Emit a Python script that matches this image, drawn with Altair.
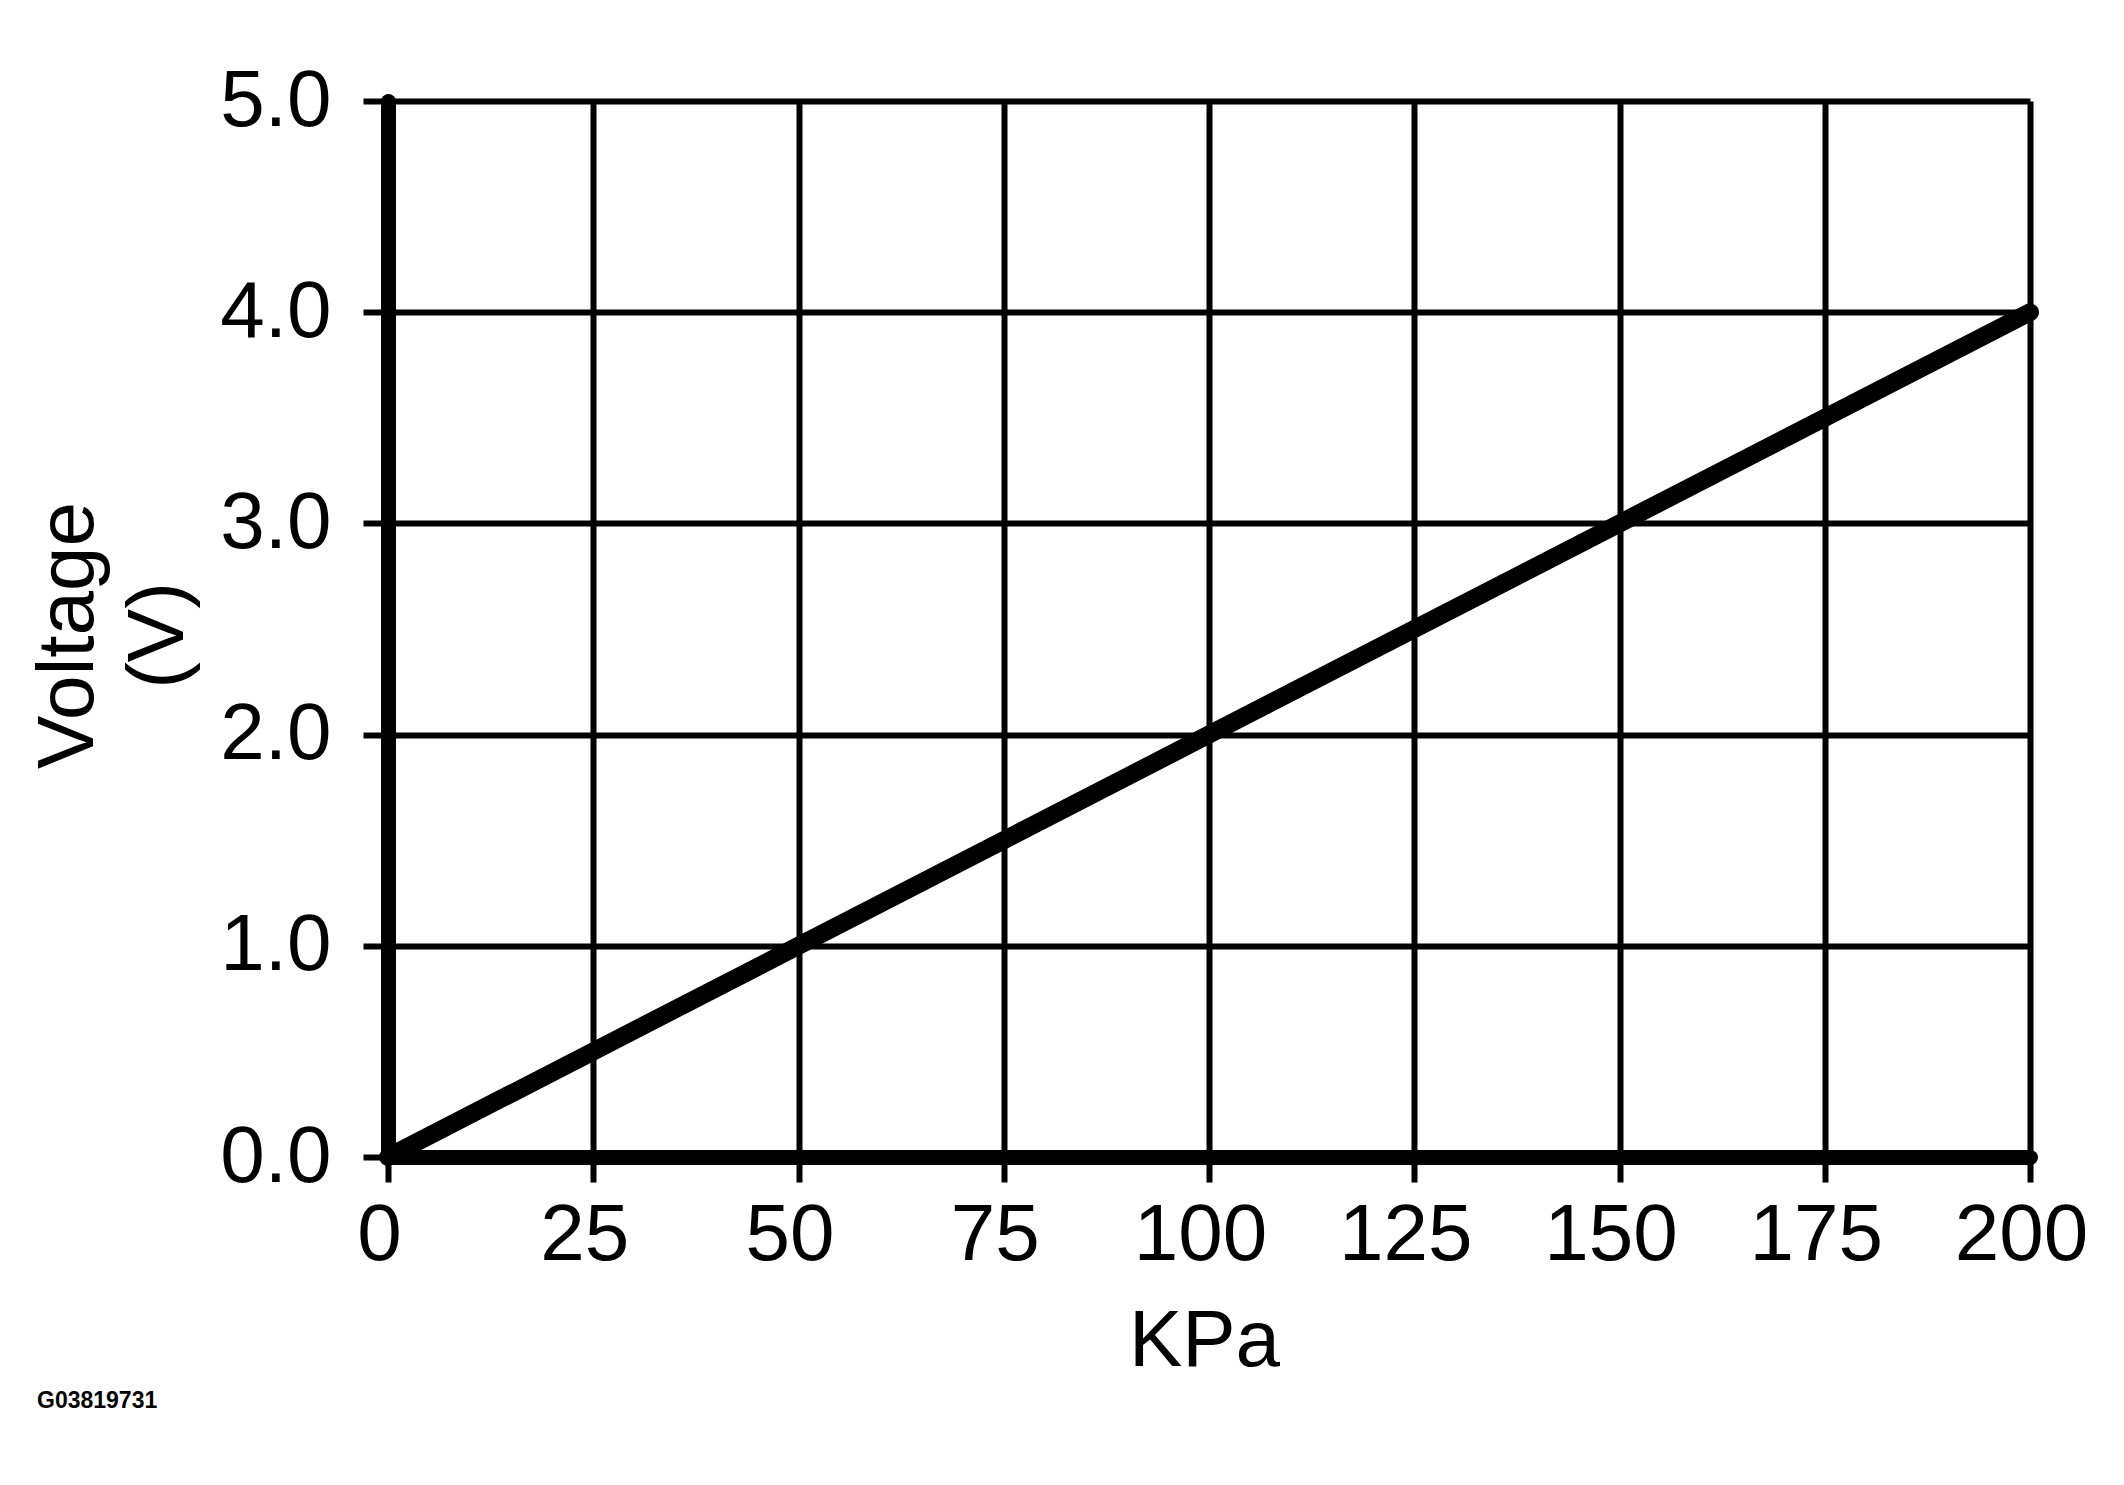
import altair as alt
import pandas as pd

# Data
kpa = [0, 50, 100, 150, 200]
voltage = [0.0, 1.0, 2.0, 3.0, 4.0]
x_ticks = [0, 25, 50, 75, 100, 125, 150, 175, 200]
y_ticks = [0, 1, 2, 3, 4, 5]
code_label = ["G03819731"]

FONT = "Liberation Sans"

df = pd.DataFrame({"KPa": kpa, "Voltage": voltage})
df_code = pd.DataFrame({"label": code_label})

x_axis = alt.Axis(
    values=x_ticks, title="KPa", grid=True,
    labelFlush=False, labelOverlap=False, labelBound=False,
    labelPadding=14, labelOffset=-9,
    titleX=816, titleY=208, titleBaseline="alphabetic", titleAlign="center",
    titleAngle=0,
)
y_axis = alt.Axis(
    values=y_ticks, format=".1f", title=["Voltage", "(V)"], grid=True,
    labelFlush=False, labelOverlap=False, labelBound=False,
    labelPadding=32,
    titleX=-296, titleY=534, titleBaseline="alphabetic", titleAlign="center",
    titleAngle=270, titleLineHeight=90,
)

line = alt.Chart(df).mark_line(color="black", strokeWidth=18, strokeCap="round").encode(
    x=alt.X("KPa:Q", scale=alt.Scale(domain=[0, 200], nice=False, zero=True), axis=x_axis),
    y=alt.Y("Voltage:Q", scale=alt.Scale(domain=[0, 5], nice=False, zero=True), axis=y_axis),
)

code = alt.Chart(df_code).mark_text(
    font=FONT, fontSize=23, fontWeight="bold", color="black",
    align="left", baseline="alphabetic",
).encode(
    text="label:N",
    x=alt.value(-351),
    y=alt.value(1307),
)

chart = alt.layer(line, code).properties(
    width=1642, height=1056,
    autosize=alt.AutoSizeParams(type="none"),
    padding={"left": 380, "top": 93, "right": 70, "bottom": 300},
    background="white",
).configure_view(strokeWidth=0).configure_axis(
    domainColor="black", domainWidth=15, domainCap="round",
    tickColor="black", tickWidth=6, tickSize=25,
    gridColor="black", gridWidth=6, gridOpacity=1,
    labelFont=FONT, labelFontSize=80, labelColor="black",
    titleFont=FONT, titleFontSize=80, titleColor="black", titleFontWeight="normal",
)

chart.save("out.html", embed_options={"renderer": "svg", "actions": False})
